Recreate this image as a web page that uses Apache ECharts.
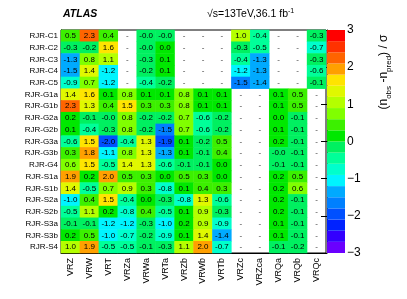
<!DOCTYPE html>
<html><head><meta charset="utf-8">
<script src="https://cdn.jsdelivr.net/npm/echarts@6/dist/echarts.min.js"></script>
<style>html,body{margin:0;padding:0;background:#fff}#c{width:407px;height:299px}</style>
</head><body><div id="c"></div>
<script>
const xLabels = ['VRZ','VRW','VRT','VRZa','VRWa','VRTa','VRZb','VRWb','VRTb','VRZc','VRZca','VRQa','VRQb','VRQc'];
const yLabels = ['RJR-C1','RJR-C2','RJR-C3','RJR-C4','RJR-C5','RJR-G1a','RJR-G1b','RJR-G2a','RJR-G2b','RJR-G3a','RJR-G3b','RJR-G4','RJR-S1a','RJR-S1b','RJR-S2a','RJR-S2b','RJR-S3a','RJR-S3b','RJR-S4'];
const _ = null;
const rowC1  = [0.5, 2.3, 0.4, _, -0.02, -0.02, _, _, _, 1.0, -0.4, _, _, -0.3];
const rowC2  = [-0.3, -0.2, 1.6, _, -0.02, 0.0, _, _, _, -0.3, -0.5, _, _, -0.7];
const rowC3  = [-1.3, 0.8, 1.1, _, -0.3, 0.1, _, _, _, -0.4, -1.3, _, _, -0.3];
const rowC4  = [-1.48, 1.4, -1.2, _, -0.2, 0.1, _, _, _, -1.2, -1.3, _, _, -0.6];
const rowC5  = [-0.9, 0.7, -1.2, _, -0.4, -0.2, _, _, _, -1.52, -1.4, _, _, -0.1];
const rowG1a = [1.4, 1.6, 0.1, 0.8, 0.1, 0.1, 0.8, 0.1, 0.1, _, _, 0.1, 0.5, _];
const rowG1b = [2.3, 1.3, 0.4, 1.5, 0.3, 0.3, 0.8, 0.1, 0.1, _, _, 0.1, 0.5, _];
const rowG2a = [0.2, -0.1, -0.02, 0.8, -0.2, -0.2, 0.7, -0.6, -0.2, _, _, 0.0, -0.1, _];
const rowG2b = [0.1, -0.4, -0.3, 0.8, -0.2, -1.52, 0.7, -0.6, -0.2, _, _, 0.1, -0.1, _];
const rowG3a = [-0.6, 1.5, -2.0, -0.4, 1.3, -1.9, 0.1, -0.2, 0.5, _, _, 0.2, -0.1, _];
const rowG3b = [0.3, 1.8, -1.1, 0.8, 1.3, -1.3, 0.1, -0.1, 0.4, _, _, -0.02, -0.1, _];
const rowG4  = [0.6, 1.5, -0.5, 1.4, 1.3, -0.6, -0.1, -0.1, 0.0, _, _, -0.1, -0.1, _];
const rowS1a = [1.9, 0.2, 2.0, 0.5, 0.3, 0.0, 0.5, 0.3, 0.0, _, _, 0.2, 0.5, _];
const rowS1b = [1.4, -0.5, 0.7, 0.9, 0.3, -0.8, 0.1, 0.4, 0.3, _, _, 0.2, 0.6, _];
const rowS2a = [-1.0, 0.4, 1.5, -0.4, 0.0, -0.3, -0.8, 1.3, -0.6, _, _, 0.2, -0.1, _];
const rowS2b = [-0.5, 1.1, 0.2, -0.8, 0.4, -0.5, 0.1, 0.9, -0.3, _, _, 0.2, -0.1, _];
const rowS3a = [-0.1, -0.1, -1.2, -1.2, -0.3, -1.0, 0.2, 0.9, -0.9, _, _, 0.1, -0.1, _];
const rowS3b = [0.2, 0.5, -1.0, -0.7, -0.2, -0.9, 0.1, 1.4, -1.4, _, _, 0.1, -0.1, _];
const rowS4  = [1.0, 1.9, -0.5, -0.5, -0.1, -0.3, 1.1, 2.0, -0.7, _, _, -0.1, -0.2, _];
const rows = [rowC1,rowC2,rowC3,rowC4,rowC5,rowG1a,rowG1b,rowG2a,rowG2b,rowG3a,rowG3b,rowG4,rowS1a,rowS1b,rowS2a,rowS2b,rowS3a,rowS3b,rowS4];
const zTicks = [-3,-2,-1,0,1,2,3];
const bandEdges = [-3,-2.7,-2.4,-2.1,-1.8,-1.5,-1.2,-0.9,-0.6,-0.3,0,0.3,0.6,0.9,1.2,1.5,1.8,2.1,2.4,2.7,3];
const bandColors = ['#6a00ff','#3300ff','#0022ff','#0050ff','#0080ff','#00aaff','#00f4ff','#00ffcc','#00ff99','#00f060','#00e800','#3cf000','#80ff00','#b4ff00','#e0f800','#ffe400','#ffa000','#ff6400','#ff3200','#ff0000'];

const cells = [], missing = [];
rows.forEach((r, yi) => r.forEach((v, xi) => {
  if (v === null) missing.push([xi, yi]); else cells.push([xi, yi, v]);
}));
const pieces = bandColors.map((c, i) => ({gte: bandEdges[i], lt: bandEdges[i+1], color: c}));
pieces[pieces.length-1].lte = 3; delete pieces[pieces.length-1].lt;
const bands = bandColors.map((c, i) => [bandEdges[i], bandEdges[i+1], i]);

const chart = echarts.init(document.getElementById('c'), null, {renderer: 'canvas'});
chart.setOption({
  animation: false,
  textStyle: {fontFamily: 'Liberation Sans, Arial, sans-serif'},
  grid: [
    {left: 61, top: 30, right: 81, bottom: 46, show: true, borderColor: '#000', borderWidth: 1, backgroundColor: 'transparent', containLabel: false},
    {left: 327, top: 30, width: 18, height: 223, show: false}
  ],
  xAxis: [
    {type: 'category', data: xLabels, gridIndex: 0, position: 'bottom',
     axisLine: {lineStyle: {color: '#000'}}, axisTick: {inside: true, length: 3, lineStyle: {color: '#000'}},
     axisLabel: {rotate: 90, fontSize: 9, color: '#000', margin: 5}, splitLine: {show: false}},
    {type: 'value', gridIndex: 1, min: 0, max: 1, show: false}
  ],
  yAxis: [
    {type: 'category', data: yLabels, gridIndex: 0, inverse: true,
     axisLine: {lineStyle: {color: '#000'}}, axisTick: {inside: true, length: 3, lineStyle: {color: '#000'}},
     axisLabel: {fontSize: 8, color: '#000', margin: 3}, splitLine: {show: false}},
    {type: 'value', gridIndex: 1, min: zTicks[0], max: zTicks[zTicks.length-1], interval: 1, position: 'right',
     axisLine: {show: true, lineStyle: {color: '#000'}}, axisTick: {show: true, inside: true, length: 6, lineStyle: {color: '#000'}},
     axisLabel: {fontSize: 12, color: '#000', margin: 2, formatter: v => v < 0 ? '\u2212' + (-v) : String(v)},
     splitLine: {show: false}}
  ],
  visualMap: {type: 'piecewise', show: false, seriesIndex: 0, dimension: 2, pieces: pieces},
  series: [
    {type: 'heatmap', xAxisIndex: 0, yAxisIndex: 0, data: cells,
     label: {show: true, fontSize: 8, color: '#000', formatter: p => p.value[2].toFixed(1)}},
    {type: 'scatter', xAxisIndex: 0, yAxisIndex: 0, data: missing, symbolSize: 1,
     itemStyle: {color: 'rgba(0,0,0,0)'},
     label: {show: true, position: 'inside', fontSize: 8, color: '#000', formatter: '-'}},
    {type: 'custom', xAxisIndex: 1, yAxisIndex: 1, data: bands, silent: true, clip: false,
     renderItem: (params, api) => {
       const lo = api.value(0), hi = api.value(1), idx = api.value(2);
       const p0 = api.coord([0, hi]), p1 = api.coord([1, lo]);
       return {type: 'rect', shape: {x: p0[0], y: p0[1], width: p1[0]-p0[0], height: p1[1]-p0[1]},
               style: {fill: bandColors[idx]}};
     }}
  ],
  graphic: [
    {type: 'text', left: 63, top: 9, style: {text: 'ATLAS', font: 'italic bold 10.5px Liberation Sans, Arial, sans-serif', fill: '#000'}},
    {type: 'text', left: 207, top: 8, style: {text: '\u221As=13TeV,36.1 fb{sup|-1}', font: '10.5px Liberation Sans, Arial, sans-serif', fill: '#000',
      rich: {sup: {fontSize: 7, verticalAlign: 'top', padding: [0,0,5,0]}}}},
    {type: 'text', x: 384, y: 72, rotation: Math.PI/2,
     style: {text: '(n{sub|obs} -n{sub|pred}) / \u03C3', font: '12px Liberation Sans, Arial, sans-serif', fill: '#000',
       align: 'center', verticalAlign: 'middle',
       rich: {sub: {fontSize: 8, padding: [9,0,0,0]}}}}
  ]
});
</script></body></html>
